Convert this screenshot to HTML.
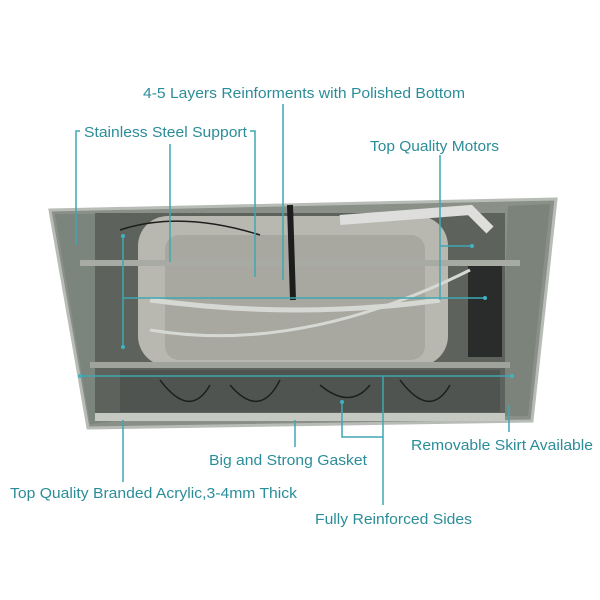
<!DOCTYPE html>
<html><head><meta charset="utf-8"><style>
html,body{margin:0;padding:0;background:#fff;}
svg{display:block}
text{font-family:"Liberation Sans",sans-serif;font-size:15px;fill:#2b8d98;}
</style></head><body>
<svg width="600" height="600" viewBox="0 0 600 600" xmlns="http://www.w3.org/2000/svg">
<polygon points="50,210 556,199 532,421 88,428" fill="#8a8f88" stroke="#b8bcb6" stroke-width="3"/>
<polygon points="55,214 95,214 130,420 90,424" fill="#7c857d"/>
<polygon points="508,206 550,204 528,416 500,416" fill="#7b837b"/>
<rect x="95" y="213" width="410" height="200" fill="#5e625c"/>
<rect x="120" y="370" width="380" height="42" fill="#505450"/>
<rect x="138" y="216" width="310" height="150" rx="30" fill="#b9b8b0"/>
<rect x="165" y="235" width="260" height="125" rx="14" fill="#a9a8a0"/>
<rect x="468" y="262" width="34" height="95" fill="#2a2c2b"/>
<rect x="80" y="260" width="440" height="6" fill="#a8aba4"/>
<rect x="90" y="362" width="420" height="6" fill="#9fa39c"/>
<rect x="95" y="413" width="410" height="8" fill="#c6c8c2"/>
<g stroke="#1e1e1e" stroke-width="1.5" fill="none">
<path d="M160,380 Q190,420 210,385"/><path d="M230,385 Q260,420 280,380"/>
<path d="M320,385 Q350,410 370,385"/><path d="M400,380 Q430,420 450,385"/>
<path d="M120,230 Q180,210 260,235"/>
</g>
<path d="M150,300 Q300,320 440,300" stroke="#d6d8d4" stroke-width="5" fill="none"/>
<path d="M150,330 Q300,355 470,270" stroke="#d6d8d4" stroke-width="3" fill="none"/>
<path d="M340,220 L470,210 L490,230" stroke="#dedfdc" stroke-width="10" fill="none"/>
<path d="M290,205 L293,300" stroke="#1d1d1d" stroke-width="6"/>
<g stroke="#3fa7b3" stroke-width="1.5" fill="none">
<path d="M76,245 V131 H80"/>
<path d="M250,131 H255 V277"/>
<path d="M170,144 V262"/>
<path d="M283,104 V280"/>
<path d="M440,155 V300"/>
<path d="M123,298 H485"/>
<path d="M123,236 V347"/>
<path d="M440,246 H472"/>
<path d="M80,376 H512"/>
<path d="M509,405 V432"/>
<path d="M295,420 V447"/>
<path d="M342,402 V437 H383"/>
<path d="M383,376 V505"/>
<path d="M123,420 V482"/>
</g>
<g fill="#3fb3c2">
<circle cx="123" cy="236" r="2"/><circle cx="123" cy="347" r="2"/><circle cx="485" cy="298" r="2"/>
<circle cx="80" cy="376" r="2"/><circle cx="512" cy="376" r="2"/><circle cx="472" cy="246" r="2"/>
<circle cx="342" cy="402" r="2"/>
</g>
<text x="143" y="98" textLength="322" lengthAdjust="spacingAndGlyphs">4-5 Layers Reinforments with Polished Bottom</text>
<text x="84" y="137" textLength="163" lengthAdjust="spacingAndGlyphs">Stainless Steel Support</text>
<text x="370" y="151" textLength="129" lengthAdjust="spacingAndGlyphs">Top Quality Motors</text>
<text x="411" y="450" textLength="182" lengthAdjust="spacingAndGlyphs">Removable Skirt Available</text>
<text x="209" y="465" textLength="158" lengthAdjust="spacingAndGlyphs">Big and Strong Gasket</text>
<text x="10" y="498" textLength="287" lengthAdjust="spacingAndGlyphs">Top Quality Branded Acrylic,3-4mm Thick</text>
<text x="315" y="524" textLength="157" lengthAdjust="spacingAndGlyphs">Fully Reinforced Sides</text>
</svg>
</body></html>
